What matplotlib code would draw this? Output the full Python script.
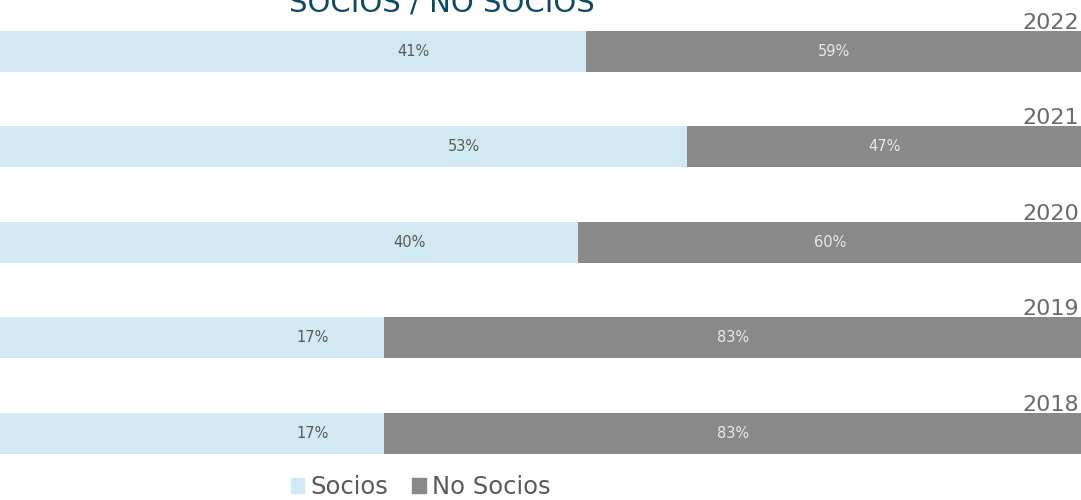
import numpy as np
from matplotlib import pyplot as plt
from matplotlib.patches import Patch

plt.rcParams['font.family'] = ['DejaVu Sans']

years = ['2018', '2019', '2020', '2021', '2022']
socios = [17, 17, 40, 53, 41]
no_socios = [83, 83, 60, 47, 59]

c_socios = '#d2e8f2'
c_no = '#898989'

fig = plt.figure(figsize=(10.81, 5.0), dpi=100)
ax = fig.add_axes([0, 0, 1, 1])

xmin, xmax = -28.6, 99.8
ax.set_xlim(xmin, xmax)
ax.set_ylim(-0.697, 4.539)

y = np.arange(len(years))
h = 0.43
s = np.array(socios)
n = np.array(no_socios)

# socios bar drawn from the left edge of the view
ax.barh(y, s - xmin, left=xmin, height=h, color=c_socios, edgecolor='none')
ax.barh(y, n, left=s, height=h, color=c_no, edgecolor='none')

for i in range(len(years)):
    ax.text(s[i] / 2, y[i], '%d%%' % s[i], ha='center', va='center',
            fontsize=10.5, color='#5a5a5a')
    ax.text(s[i] + n[i] / 2, y[i], '%d%%' % n[i], ha='center', va='center',
            fontsize=10.5, color='#e8e8e8')
    ax.text(xmax - 0.25, y[i] + h / 2 + 0.025, years[i], ha='right',
            va='baseline', fontsize=16, color='#6a6a6a')

ax.axis('off')

# title sits partly above the top edge, as in the original
fig.text(0.267, 0.977, 'SOCIOS / NO SOCIOS', ha='left', va='baseline',
         fontsize=21, color='#0d4a63')

handles = [Patch(color=c_socios, label='Socios'),
           Patch(color=c_no, label='No Socios')]
fig.legend(handles=handles, loc='center', bbox_to_anchor=(0.389, 0.026),
           ncol=2, frameon=False, fontsize=17.5, handlelength=0.55,
           handleheight=0.55, handletextpad=0.25, columnspacing=1.0,
           borderpad=0, labelcolor='#5a5a5a')

plt.savefig('out.png', dpi=100)
plt.close()
